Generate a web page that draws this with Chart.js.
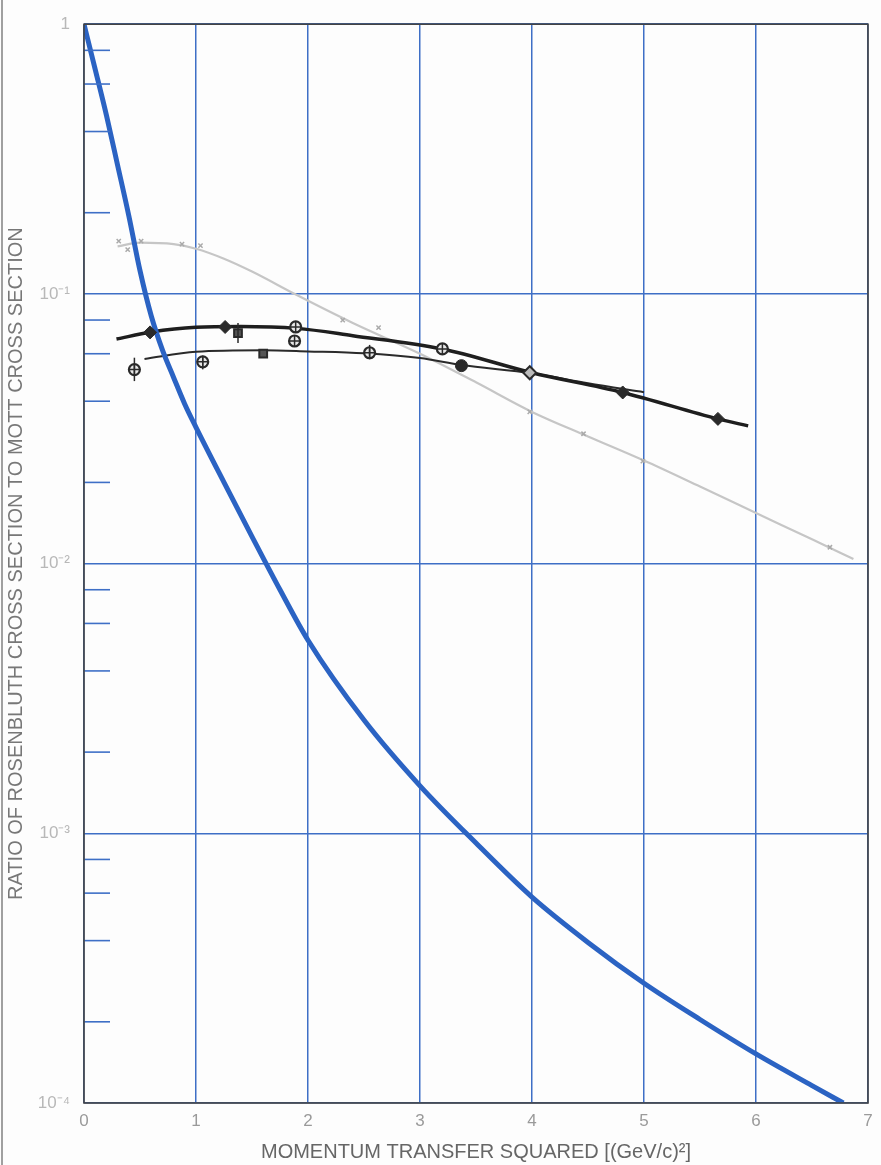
<!DOCTYPE html>
<html>
<head>
<meta charset="utf-8">
<script src="https://cdn.jsdelivr.net/npm/chart.js@4.4.1/dist/chart.umd.min.js"></script>
<style>
  body { margin: 0; background: #fdfdfd; }
  #wrap { position: relative; width: 881px; height: 1165px; }
  #edge { position: absolute; left: 1px; top: 0; width: 2px; height: 1165px; background: #a0a0a0; }
</style>
</head>
<body>
<div id="wrap">
  <canvas id="myChart" width="881" height="1165"></canvas>
  <div id="edge"></div>
</div>
<script>
// momentum transfer squared, (GeV/c)^2
const xTicks = [0, 1, 2, 3, 4, 5, 6, 7];
const yTicks = [1e-4, 2e-4, 4e-4, 6e-4, 8e-4, 1e-3, 2e-3, 4e-3, 6e-3, 8e-3,
                1e-2, 2e-2, 4e-2, 6e-2, 8e-2, 1e-1, 0.2, 0.4, 0.6, 0.8, 1];
const decadeLabels = { '1': '1', '0.1': '10⁻¹', '0.01': '10⁻²', '0.001': '10⁻³', '0.0001': '10⁻⁴' };

// point-charge curve (blue)
const blueQ   = [0, 0.1, 0.2, 0.3, 0.4, 0.5, 0.6, 0.7, 0.8, 0.9, 1.0, 1.25, 1.5, 1.75, 2.0, 2.5, 3.0, 3.5, 4.0, 4.5, 5.0, 5.5, 6.0, 6.5, 6.78];
const blueVal = [1, 0.68, 0.46, 0.30, 0.195, 0.122, 0.083, 0.062, 0.049, 0.039, 0.032, 0.020, 0.0126, 0.0080, 0.0052,
                 0.00263, 0.0015, 0.00092, 0.00058, 0.000394, 0.000278, 0.000204, 0.000152, 0.000116, 0.0001];

// grey curve and its points
const grayQ   = [0.3, 0.5, 0.8, 1.0, 1.25, 1.5, 1.9, 2.4, 3.0, 3.5, 4.0, 4.5, 5.0, 5.5, 6.0, 6.5, 6.87];
const grayVal = [0.150, 0.155, 0.153, 0.147, 0.135, 0.121, 0.099, 0.078, 0.060, 0.047, 0.0365, 0.0296, 0.0241, 0.0193, 0.0154, 0.0123, 0.0104];
const grayPtQ   = [0.31, 0.39, 0.51, 0.875, 1.04, 2.31, 2.63, 3.98, 4.46, 4.99, 6.66];
const grayPtVal = [0.157, 0.146, 0.157, 0.153, 0.151, 0.080, 0.075, 0.0365, 0.0303, 0.0240, 0.0115];

// black curves
const upQ   = [0.29, 0.6, 1.0, 1.4, 1.9, 2.4, 3.2, 4.0, 4.8, 5.66, 5.93];
const upVal = [0.068, 0.0722, 0.0752, 0.0757, 0.0745, 0.0700, 0.0625, 0.0510, 0.0432, 0.0344, 0.0324];
const lowQ   = [0.54, 1.0, 1.6, 2.0, 2.5, 3.0, 3.37, 4.0, 4.5, 5.0];
const lowVal = [0.0574, 0.061, 0.0618, 0.0612, 0.0602, 0.0578, 0.0545, 0.0508, 0.0466, 0.0432];

// measured points
const diamondQ   = [0.59, 1.26, 4.81, 5.66];
const diamondVal = [0.072, 0.0754, 0.0431, 0.0344];
const openDiamondQ   = [3.98];
const openDiamondVal = [0.051];
const dotQ   = [3.37];
const dotVal = [0.0542];
const ringQ   = [0.45, 1.06, 1.88, 1.89, 2.55, 3.2];
const ringVal = [0.0524, 0.056, 0.0669, 0.0754, 0.0605, 0.0625];
const squareQ   = [1.375, 1.6];
const squareVal = [0.0716, 0.060];
const errQ  = [0.45, 1.06, 1.375, 2.55];
const errLo = [0.0475, 0.0525, 0.0658, 0.0572];
const errHi = [0.058, 0.059, 0.078, 0.0647];

const pts = (xs, ys) => xs.map((x, i) => ({ x: x, y: ys[i] }));

const gridBlue = '#3e6fc6';
const ink = '#2a2a2a';

const extras = {
  id: 'extras',
  afterDatasetsDraw(chart) {
    const { ctx, chartArea: a, scales: { x, y } } = chart;
    ctx.save();
    // short blue ticks inside the left axis
    ctx.strokeStyle = gridBlue;
    ctx.lineWidth = 1.6;
    yTicks.forEach(v => {
      if (decadeLabels[String(v)]) return;
      const py = y.getPixelForValue(v);
      ctx.beginPath();
      ctx.moveTo(a.left, py);
      ctx.lineTo(a.left + 26, py);
      ctx.stroke();
    });
    // error bars
    ctx.strokeStyle = ink;
    ctx.lineWidth = 1.5;
    errQ.forEach((q, i) => {
      const px = x.getPixelForValue(q);
      ctx.beginPath();
      ctx.moveTo(px, y.getPixelForValue(errHi[i]));
      ctx.lineTo(px, y.getPixelForValue(errLo[i]));
      ctx.stroke();
    });
    // frame
    ctx.strokeStyle = '#444';
    ctx.lineWidth = 1.6;
    ctx.strokeRect(a.left, a.top, a.right - a.left, a.bottom - a.top);
    ctx.restore();
  }
};

const ctx = document.getElementById('myChart');
let myChart = new Chart(ctx, {
  type: 'scatter',
  data: {
    datasets: [
      {
        data: pts(ringQ, ringVal),
        pointStyle: 'cross', pointRadius: 5, borderColor: ink, borderWidth: 1.5
      },
      {
        data: pts(ringQ, ringVal),
        pointStyle: 'circle', pointRadius: 5.5, backgroundColor: '#e8e8e8', borderColor: ink, borderWidth: 2.2
      },
      {
        data: pts(squareQ, squareVal),
        pointStyle: 'rect', pointRadius: 5.5, backgroundColor: '#555', borderColor: ink, borderWidth: 2
      },
      {
        data: pts(diamondQ, diamondVal),
        pointStyle: 'rectRot', pointRadius: 6.5, backgroundColor: ink, borderColor: ink, borderWidth: 1
      },
      {
        data: pts(openDiamondQ, openDiamondVal),
        pointStyle: 'rectRot', pointRadius: 6.5, backgroundColor: '#bbb', borderColor: ink, borderWidth: 2
      },
      {
        data: pts(dotQ, dotVal),
        pointStyle: 'circle', pointRadius: 6, backgroundColor: ink, borderColor: ink, borderWidth: 1
      },
      {
        data: pts(blueQ, blueVal),
        showLine: true, cubicInterpolationMode: 'monotone',
        borderColor: '#2b63c3', borderWidth: 5, pointRadius: 0
      },
      {
        data: pts(upQ, upVal),
        showLine: true, cubicInterpolationMode: 'monotone',
        borderColor: '#1e1e1e', borderWidth: 3.5, pointRadius: 0
      },
      {
        data: pts(lowQ, lowVal),
        showLine: true, cubicInterpolationMode: 'monotone',
        borderColor: '#2a2a2a', borderWidth: 2, pointRadius: 0
      },
      {
        data: pts(grayPtQ, grayPtVal),
        pointStyle: 'crossRot', pointRadius: 3, borderColor: '#aaa', borderWidth: 1.5
      },
      {
        data: pts(grayQ, grayVal),
        showLine: true, cubicInterpolationMode: 'monotone',
        borderColor: '#c6c6c6', borderWidth: 2.2, pointRadius: 0
      }
    ]
  },
  options: {
    responsive: false,
    animation: false,
    layout: { autoPadding: false, padding: { top: 10, right: 13, left: 0, bottom: 0 } },
    plugins: { legend: { display: false }, tooltip: { enabled: false } },
    scales: {
      x: {
        type: 'linear', min: 0, max: 7,
        afterBuildTicks: s => { s.ticks = xTicks.map(v => ({ value: v })); },
        afterFit: s => { s.height = 62; },
        grid: { color: gridBlue, lineWidth: 1.5, drawTicks: false },
        border: { display: false },
        ticks: { color: '#9a9a9a', padding: 8, font: { family: 'Liberation Sans', size: 17 } },
        title: {
          display: true, text: 'MOMENTUM TRANSFER SQUARED [(GeV/c)²]', color: '#666',
          padding: { top: 0, bottom: 1 }, font: { family: 'Liberation Sans', size: 20 }
        }
      },
      y: {
        type: 'logarithmic', min: 1e-4, max: 1,
        afterBuildTicks: s => { s.ticks = yTicks.map(v => ({ value: v })); },
        afterFit: s => { s.width = 84; },
        grid: {
          drawTicks: false, lineWidth: 1.5,
          color: c => (c.tick && decadeLabels[String(c.tick.value)]) ? gridBlue : 'rgba(0,0,0,0)'
        },
        border: { display: false },
        ticks: {
          autoSkip: false, color: '#b8b8b8', padding: 14,
          font: { family: 'Liberation Sans', size: 17 },
          callback: v => decadeLabels[String(v)] || ''
        },
        title: {
          display: true, text: 'RATIO OF ROSENBLUTH CROSS SECTION TO MOTT CROSS SECTION', color: '#777',
          padding: { top: 4, bottom: 4 }, font: { family: 'Liberation Sans', size: 20 }
        }
      }
    }
  },
  plugins: [extras]
});
</script>
</body>
</html>
